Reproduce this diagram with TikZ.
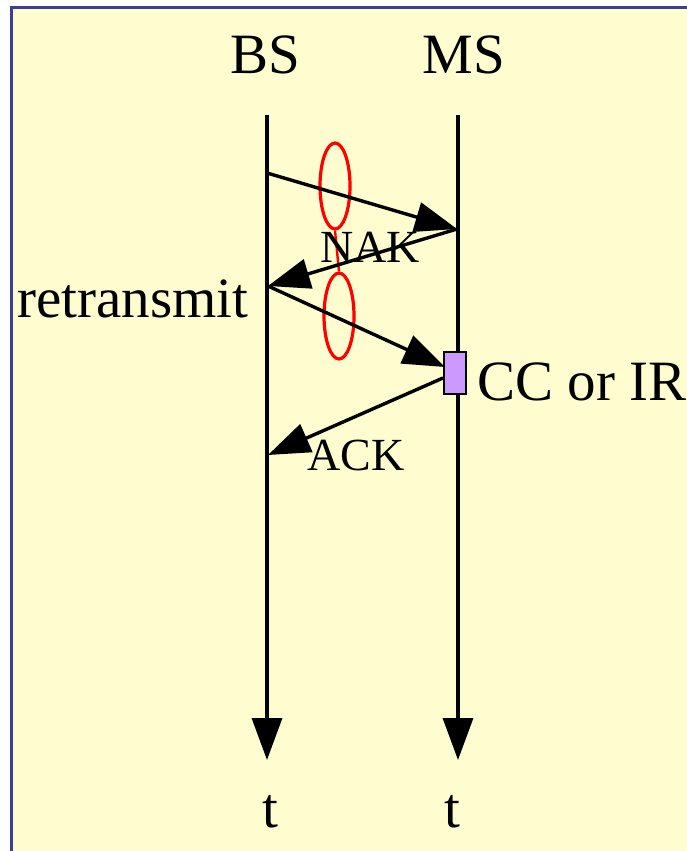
\documentclass[tikz,border=0pt]{standalone}
\usepackage{fontspec}
\setmainfont{Liberation Serif}
\usetikzlibrary{arrows.meta,shapes.geometric}
\definecolor{figY}{RGB}{255,253,208}
\definecolor{figF}{RGB}{62,62,152}
\definecolor{figL}{RGB}{204,153,255}

\begin{document}
\begin{tikzpicture}[x=1pt,y=-1pt,line width=3.4pt,>={Triangle[length=42pt,width=30pt]},
  lbl/.style={font=\fontsize{57}{62}\selectfont,inner sep=0pt},
  msg/.style={font=\fontsize{46}{50}\selectfont,inner sep=0pt},
  loop/.style={draw=red,ellipse,line width=3.2pt,minimum width=30pt,minimum height=86pt,inner sep=0pt}]
\useasboundingbox (0,0) rectangle (687,851);
% slide background, frame only on left and top
\fill[figY] (11,8) rectangle (687,851);
\draw[figF,line width=3pt] (11,851)--(11,8)--(687,8);
% stations and time axes
\node[lbl,anchor=base] (bs) at (265,74) {BS};
\node[lbl,anchor=base] (ms) at (464,74) {MS};
\coordinate (bs0) at (267,115); \coordinate (bsT) at (267,760);
\coordinate (ms0) at (458,115); \coordinate (msT) at (458,760);
\draw[->] (bs0)--(bsT);
\draw[->] (ms0)--(msT);
\node[lbl,anchor=base] (tb) at (270,827) {t};
\node[lbl,anchor=base] (tm) at (452,827) {t};
% points on the axes
\coordinate (tx1) at (267,173);
\coordinate (rx1) at (457,229);
\coordinate (tx2) at (268,286);
\coordinate (rx2) at (445,367);
\coordinate (ak) at (443,378);
\coordinate (rx3) at (268,455);
% lost packets
\node[loop] (e1) at (335,186) {};
\node[loop] (e2) at (339,316) {};
\draw[red,line width=2.4pt] (e1.south)--(e2.north);
% messages
\draw[->] (tx1)--(rx1);
\draw[->] (rx1)--(tx2);
\draw[->] (tx2)--(rx2);
\node[draw,fill=figL,line width=2.6pt,minimum width=22pt,minimum height=42pt,inner sep=0pt] (cc) at (455,373) {};
\draw[->] (ak)--(rx3);
\node[msg,anchor=base] (nak) at (370,262) {NAK};
\node[msg,anchor=base] (ack) at (356,470) {ACK};
\node[lbl,anchor=base east] (rt) at (250,317) {retransmit};
\node[lbl,anchor=base west] (ir) at (476,400) {CC or IR};
\end{tikzpicture}
\end{document}
